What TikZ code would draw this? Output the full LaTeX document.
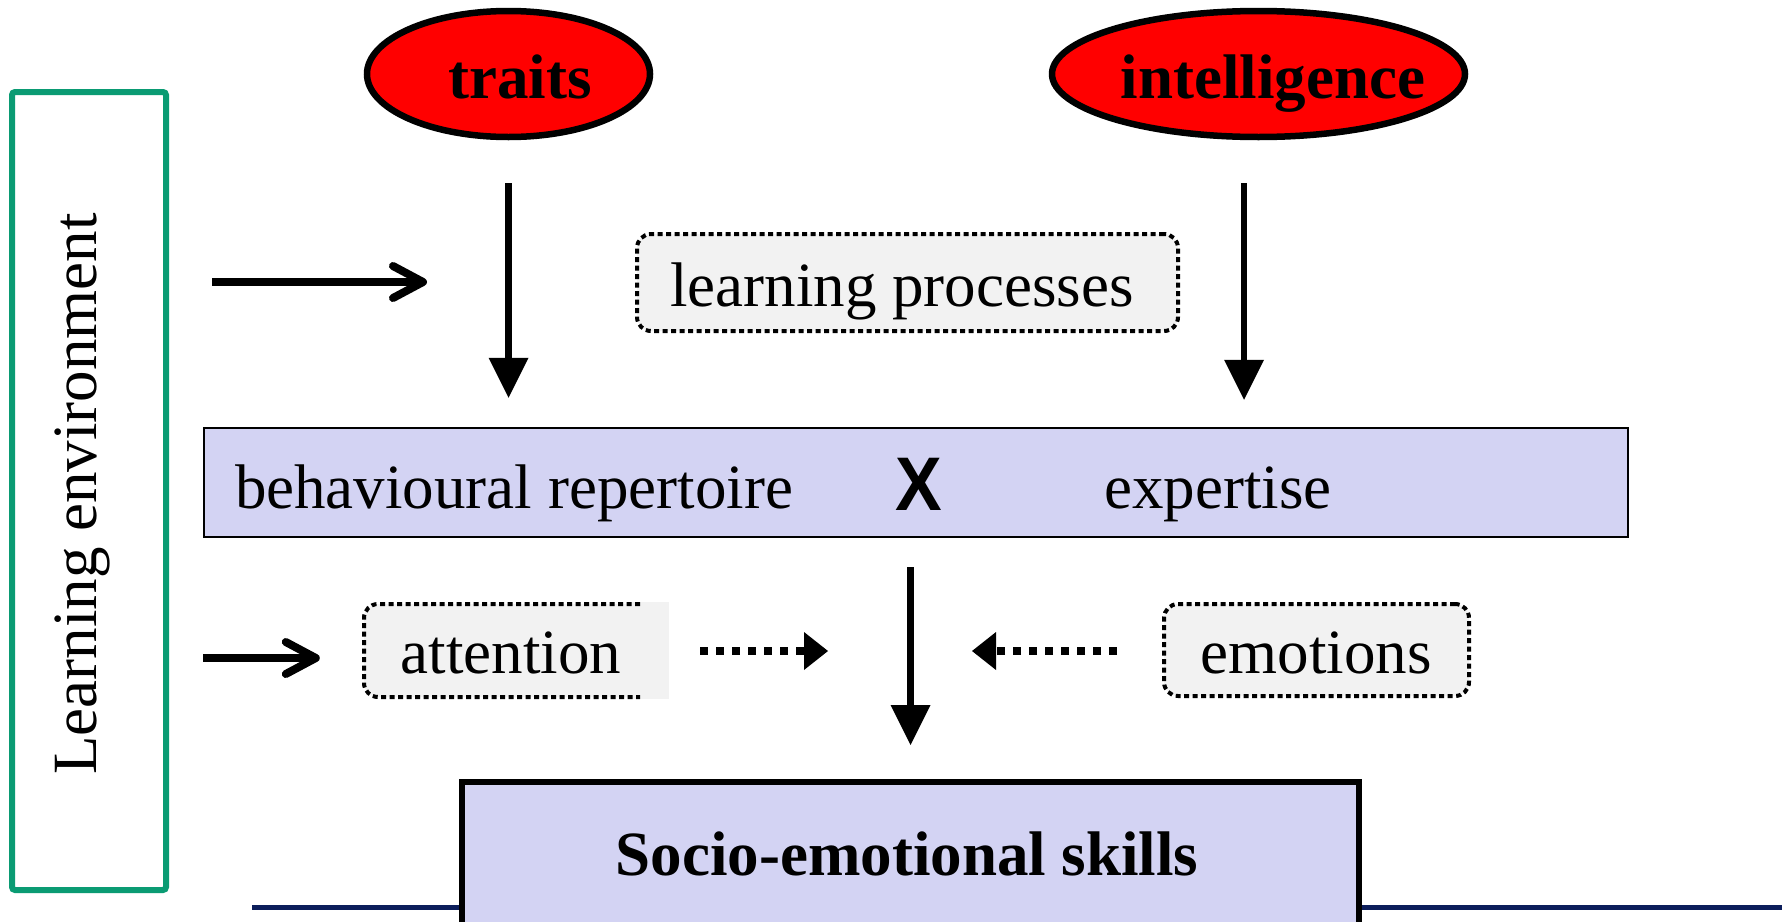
\documentclass[tikz,border=0pt]{standalone}
\usepackage{fontspec}
\setmainfont{Liberation Serif}
\newfontfamily\xsans{Liberation Sans}
\usetikzlibrary{arrows.meta,shapes.geometric}
\definecolor{lav}{HTML}{D3D3F3}
\definecolor{lightbox}{HTML}{F2F2F2}
\definecolor{envgreen}{HTML}{0A9B73}
\definecolor{navy}{HTML}{0C1E5B}
\begin{document}
\begin{tikzpicture}[x=1pt,y=-1pt,
  txt/.style={inner sep=0pt, anchor=base, font=\fontsize{63}{70}\selectfont},
  oval/.style={ellipse, draw=black, line width=6.5pt, fill=red, inner sep=0pt},
  dotbox/.style={draw=black, line width=4pt, dash pattern=on 5pt off 3.5pt, rounded corners=14pt},
  solidarrow/.style={line width=6.5pt, -{Triangle[length=40pt,width=40pt,line width=0pt]}},
  envarrow/.style={line width=8pt, -{Straight Barb[length=30pt,width=32pt,round]}},
  dotarrow/.style={line width=7.5pt, dash pattern=on 8pt off 8pt, -{Triangle[length=24pt,width=38pt,line width=0pt]}}
]
\useasboundingbox (0,0) rectangle (1782,921);

% Learning environment frame
\node[draw=envgreen, line width=6pt, rounded corners=3pt, inner sep=0pt,
      minimum width=154pt, minimum height=798pt] (env) at (89,491) {};
\node[txt, rotate=90] (envtxt) at (96,494) {Learning environment};

% top ovals
\node[oval, minimum width=283pt, minimum height=126pt] (traits) at (508.5,74) {};
\node[txt, font=\fontsize{63}{70}\selectfont\bfseries] (traitstxt) at (520,98) {traits};
\node[oval, minimum width=413pt, minimum height=126pt] (intel) at (1258.5,74) {};
\node[txt, font=\fontsize{63}{70}\selectfont\bfseries] (inteltxt) at (1273,98) {intelligence};

% learning processes
\node[dotbox, fill=lightbox, inner sep=0pt, minimum width=541pt, minimum height=97pt] (lp) at (907.5,282.5) {};
\node[txt] (lptxt) at (902,306) {learning processes};

% behavioural repertoire x expertise
\node[draw=black, line width=2.5pt, fill=lav, inner sep=0pt, minimum width=1424pt, minimum height=109pt] (beh) at (916,482.5) {};
\node[txt] (behtxt) at (514,508) {behavioural repertoire};
\node[txt, font=\fontsize{76}{80}\selectfont\xsans\bfseries, xscale=0.92] (xtxt) at (918.5,510) {X};
\node[txt] (exptxt) at (1218,508) {expertise};

% attention (border open on the right)
\fill[lightbox, rounded corners=14pt] (640,604) -- (364,604) -- (364,697) -- (640,697) -- cycle;
\fill[lightbox] (630,602) rectangle (669,699);
\draw[dotbox] (640,604) -- (364,604) -- (364,697) -- (640,697);
\node[inner sep=0pt, minimum width=305pt, minimum height=97pt] (att) at (516.5,650.5) {};
\node[txt] (atttxt) at (511,673) {attention};

% emotions
\node[dotbox, fill=lightbox, inner sep=0pt, minimum width=305pt, minimum height=92pt] (emo) at (1316.5,650) {};
\node[txt] (emotxt) at (1316,673) {emotions};

% bottom line and result box
\coordinate (lineL) at (252,907.5);
\coordinate (lineR) at (1782,907.5);
\draw[navy, line width=5pt] (lineL) -- (lineR);
\node[draw=black, line width=6pt, fill=lav, inner sep=0pt, anchor=north west,
      minimum width=897pt, minimum height=200pt] (socio) at (459,779) {};
\node[txt, font=\fontsize{63}{70}\selectfont\bfseries] (sociotxt) at (907,875) {Socio-emotional skills};

% arrows
\draw[solidarrow, shorten <=43pt, shorten >=29pt] (traits.south) -- (traits.south |- beh.north);
\coordinate (intelfoot) at (1244,140);
\draw[solidarrow, shorten <=43pt, shorten >=27pt] (intelfoot) -- (intelfoot |- beh.north);
\draw[solidarrow, shorten <=29pt, shorten >=34pt] (socio.north |- beh.south) -- (socio.north);

\coordinate (envend) at (427,282);
\draw[envarrow, shorten <=43pt] (env.east |- envend) -- (envend);
\draw[envarrow, shorten <=34pt, shorten >=44pt] (env.east |- 0,658) -- (att.west |- 0,658);

\coordinate (attend) at (828,651);
\coordinate (emoend) at (972,651);
\draw[dotarrow, shorten <=31pt] (att.east |- attend) -- (attend);
\draw[dotarrow, shorten <=45pt] (emo.west |- emoend) -- (emoend);
\end{tikzpicture}
\end{document}
